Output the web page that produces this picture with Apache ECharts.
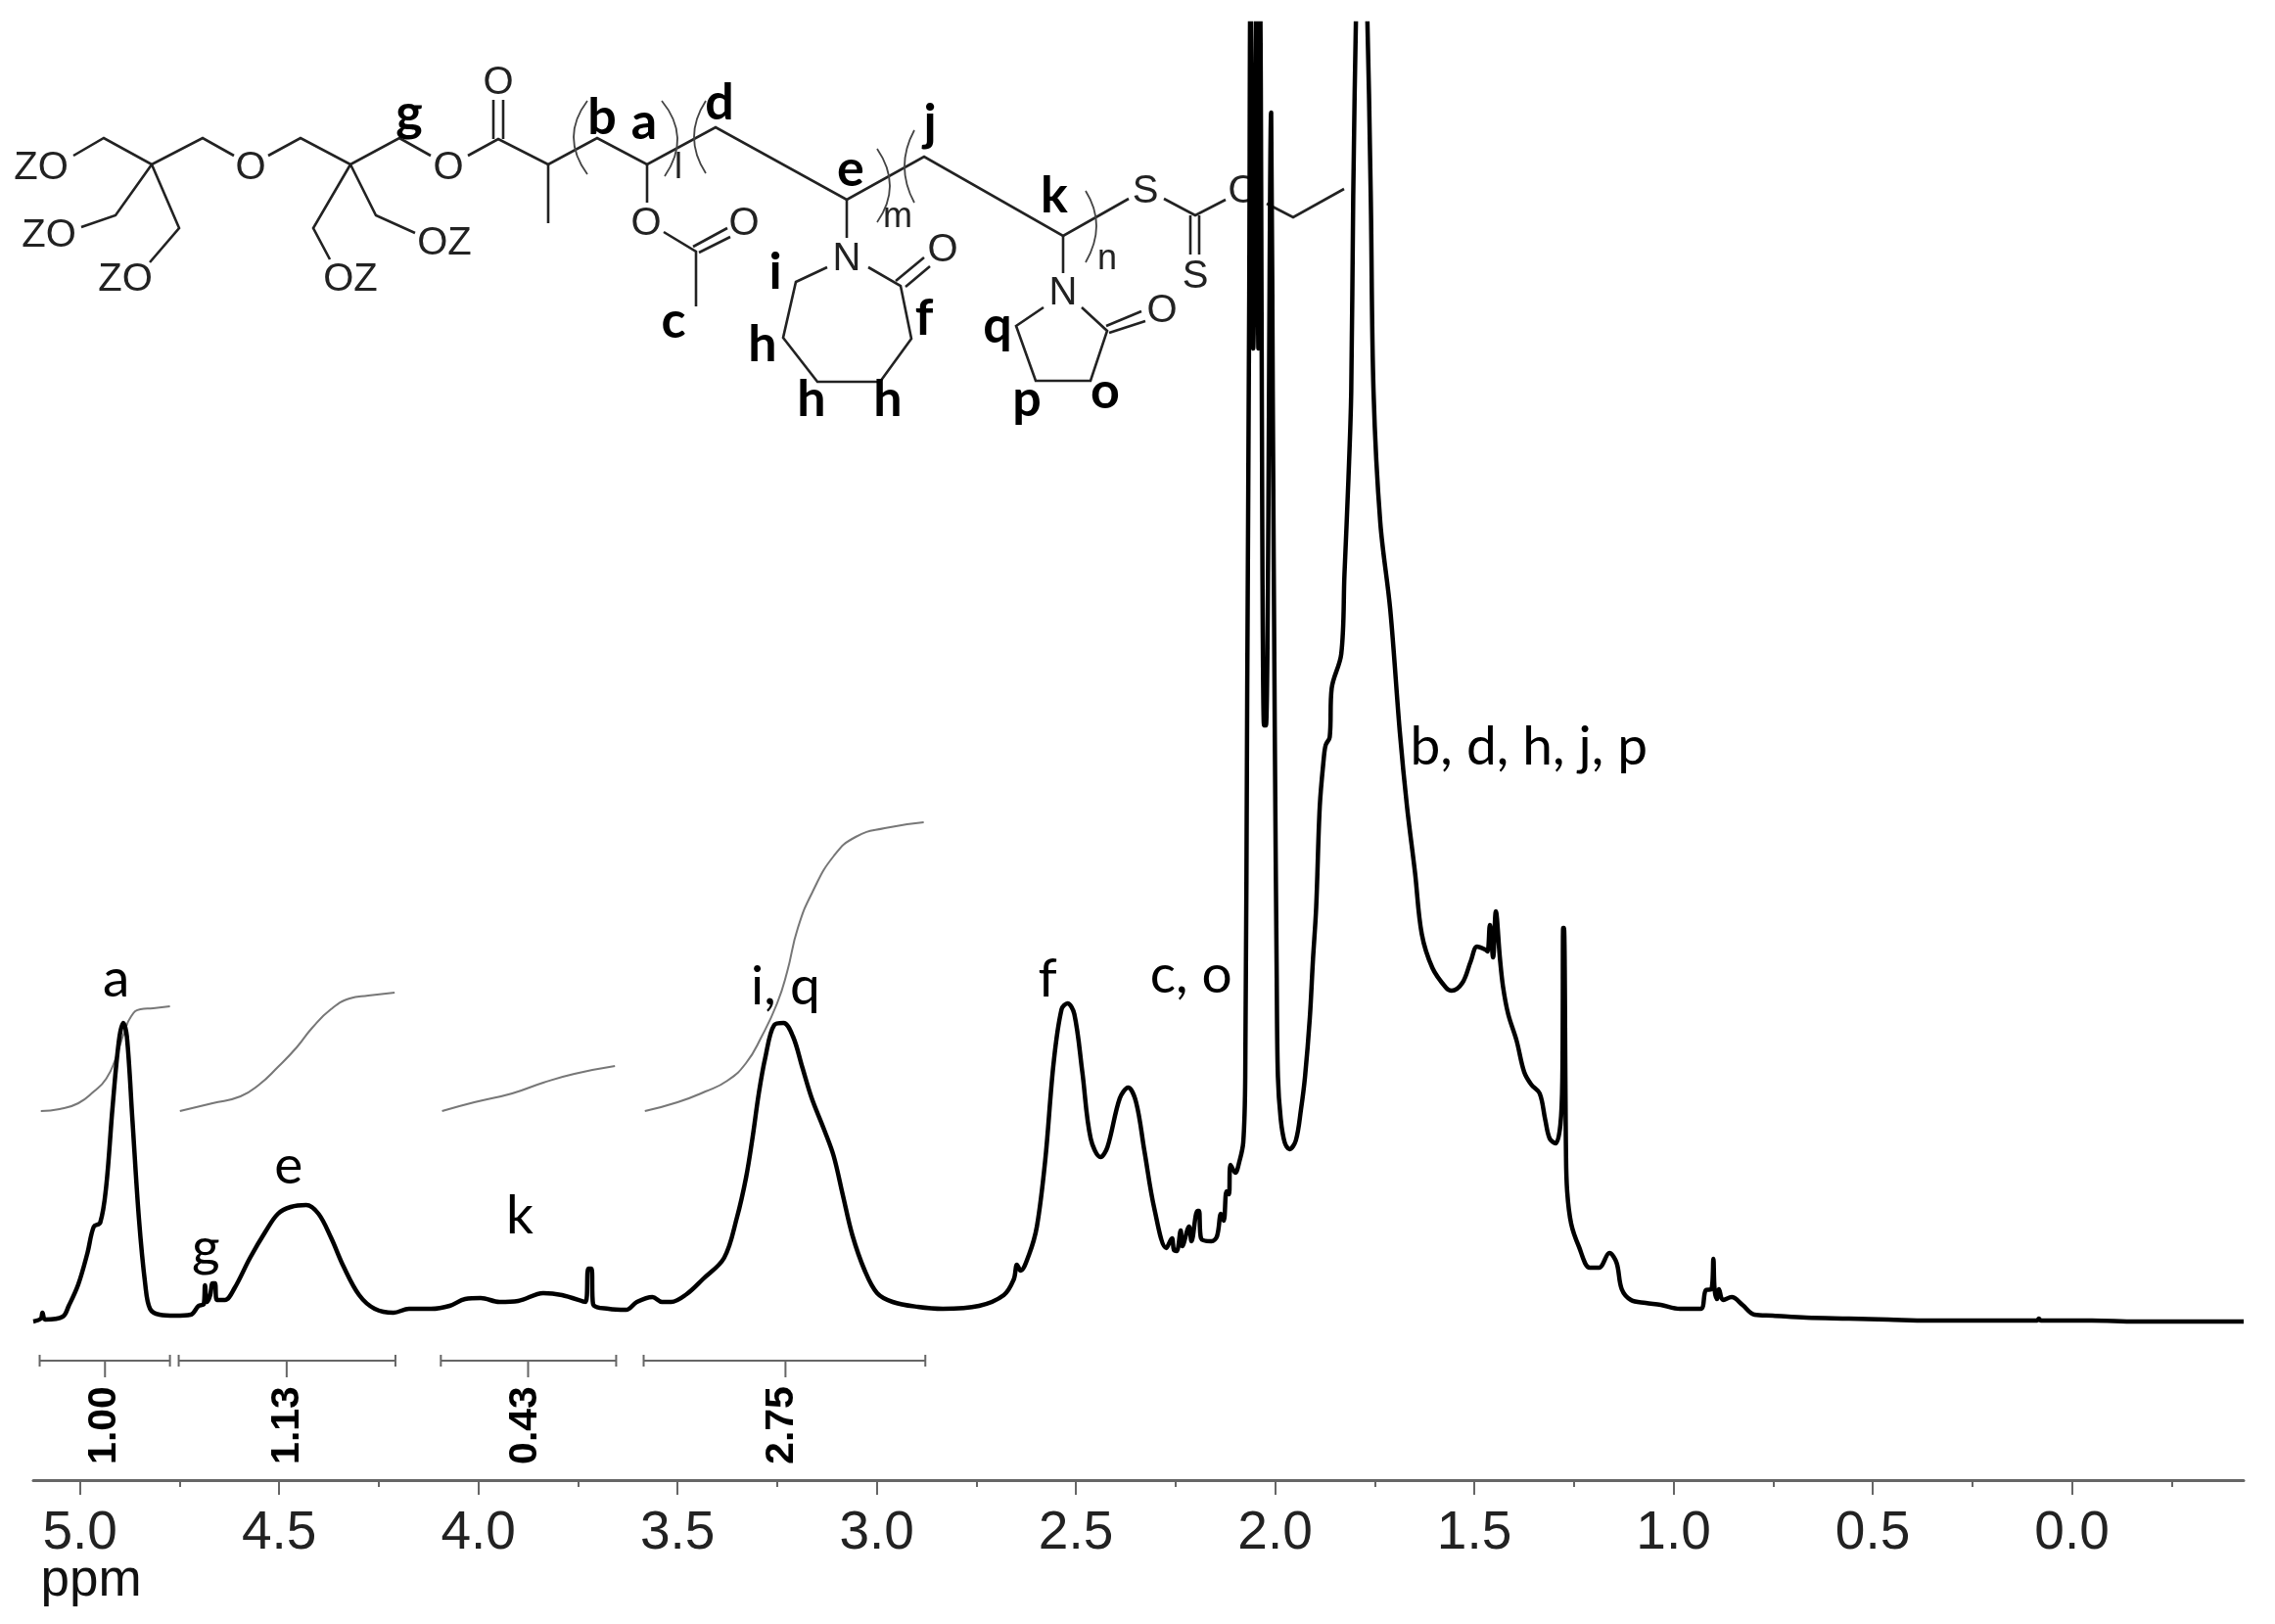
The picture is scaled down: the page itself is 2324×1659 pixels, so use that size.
<!DOCTYPE html>
<html><head><meta charset="utf-8">
<style>html,body{margin:0;padding:0;background:#fff}#c{width:2324px;height:1659px}</style>
<script src="https://cdn.jsdelivr.net/npm/echarts@6/dist/echarts.min.js"></script>
</head><body><div id="c"></div>
<script>
// 1H NMR trace: chemical shift (ppm) and intensity
const tracePpm = [
5.117,5.098,5.094,5.087,5.043,5.028,5.004,4.981,4.965,4.949,4.934,4.918,4.902,4.891,4.882,4.868,4.852,4.836,4.824,4.800,4.761,4.722,4.702,4.689,4.686,4.681,4.673,4.667,4.661,4.656,4.636,4.612,4.573,4.534,4.503,4.471,4.432,4.401,4.370,4.338,4.299,4.260,4.213,4.174,4.119,4.072,4.033,3.994,3.947,3.900,3.837,3.790,3.731,3.724,3.716,3.712,3.673,3.629,3.602,3.563,3.539,3.516,3.477,3.437,3.383,3.351,3.328,3.312,3.296,3.280,3.257,3.234,3.210,3.187,3.163,3.132,3.108,3.085,3.061,3.030,2.999,2.960,2.897,2.834,2.743,
2.681,2.656,2.648,2.639,2.618,2.598,2.577,2.556,2.536,2.521,2.504,2.484,2.463,2.438,2.421,2.390,2.369,2.349,2.328,2.303,2.273,2.259,2.254,2.247,2.237,2.233,2.216,2.210,2.195,2.191,2.186,2.160,2.146,2.136,2.129,2.122,2.116,2.112,2.100,2.090,2.080,2.075,2.070,2.065,2.062,2.055,2.047,2.042,2.038,2.028,2.023,2.010,2.006,2.001,1.996,1.993,1.986,1.976,1.964,1.948,1.935,1.925,1.913,1.905,1.897,1.888,1.878,1.873,1.863,1.858,1.834,1.826,1.816,1.809,1.804,1.796,1.785,1.770,1.760,1.753,1.736,1.711,1.687,1.669,1.649,1.632,1.605,1.571,1.557,1.530,1.509,1.493,1.473,1.467,1.461,1.453,1.446,1.436,1.428,1.415,1.394,1.375,1.357,1.336,1.322,1.311,1.296,1.284,1.279,1.277,1.275,1.270,1.267,1.257,1.238,1.210,1.187,1.161,1.143,1.130,1.107,1.070,1.032,0.984,0.932,0.919,0.905,0.900,0.897,0.891,0.886,0.876,0.854,0.827,0.797,0.751,0.667,0.560,0.461,0.360,0.254,0.170,0.088,0.083,0.078,-0.050,-0.161,-0.300,-0.431];
const traceIntensity = [
162,165,171,164,167,178,200,232,259,263,300,381,449,467,453,367,268,200,175,169,168,169,178,180,199,182,189,201,201,184,184,196,227,254,272,279,281,272,248,218,189,175,171,175,175,178,185,186,182,183,191,189,182,216,216,180,175,174,182,187,182,182,190,205,227,268,309,349,395,431,465,467,453,422,390,358,331,291,250,214,191,182,177,175,178,
189,205,220,214,230,259,327,426,481,487,476,417,349,330,340,390,401,386,336,277,237,247,235,234,255,239,259,244,275,275,247,244,249,272,265,295,292,322,314,325,345,412,812,1212,1520,1156,1520,1156,1520,771,771,1397,1112,771,512,412,369,345,338,347,379,412,472,532,585,688,737,751,759,809,844,925,1023,1112,1312,1520,1700,1520,1312,1112,978,889,764,688,621,558,523,503,500,508,530,545,542,540,567,534,581,534,504,476,449,417,404,395,368,349,344,363,412,564,564,336,295,262,239,217,217,232,222,195,184,181,179,175,175,194,195,226,195,185,195,184,187,179,169,168,166,165,164,163,163,163,163,165,163,163,162,162,162];

// integral curves
const int1Ppm = [5.098,5.051,5.004,4.965,4.934,4.910,4.890,4.871,4.848,4.816,4.774];
const int1Val = [377,379,385,397,410,431,456,474,481,482,484];
const int2Ppm = [4.749,4.667,4.597,4.550,4.503,4.456,4.417,4.370,4.323,4.276,4.210];
const int2Val = [377,385,392,404,422,442,462,481,492,495,498];
const int3Ppm = [4.091,4.010,3.915,3.837,3.759,3.657];
const int3Val = [377,386,395,406,415,423];
const int4Ppm = [3.582,3.500,3.430,3.375,3.328,3.289,3.250,3.225,3.198,3.161,3.107,3.053,2.980,2.882];
const int4Val = [377,386,397,408,426,453,487,519,564,601,638,657,666,672];

// integral ranges and values
const rangeFrom = [5.101,4.752,4.094,3.585];
const rangeTo = [4.774,4.208,3.654,2.878];
const rangeMark = [4.937,4.481,3.875,3.229];
const rangeLabelPpm = [4.939,4.479,3.881,3.239];
const rangeText = ['1.00','1.13','0.43','2.75'];

// peak assignments
const peakText = ['a','g','e','k','i, q','f','c, o','b, d, h, j, p'];
const peakPpm = [4.909,4.684,4.476,3.896,3.229,2.571,2.211,1.363];
const peakVal = [512,237,321,270,504,512,516,749];

const tickValues = [0,0.5,1,1.5,2,2.5,3,3.5,4,4.5,5];
const minorTickValues = [-0.25,0.25,0.75,1.25,1.75,2.25,2.75,3.25,3.75,4.25,4.75];

// chemical structure (annotation drawn on the page)
const molBonds = [
[[75,159],[106,141],[155,168],[207,141],[239,159]],
[[274,159],[307,141],[358,168],[408,141],[440,159]],
[[478,159],[509,142],[560,168],[610,141],[661,168],[731,130],[865,204],[944,160],[1086,241],[1153,203]],
[[560,168],[560,228]],[[504,142],[504,102]],[[514,142],[514,102]],
[[155,168],[118,220],[83,232]],[[155,168],[183,233],[153,268]],
[[358,168],[320,233],[337,265]],[[358,168],[384,220],[424,238]],
[[661,168],[661,207]],[[678,237],[711,257],[711,313]],[[708,252],[743,233]],[[714,258],[746,242]],
[[865,204],[865,243]],[[845,273],[813,288],[800,345],[835,390],[899,390],[931,346],[920,292],[887,273]],
[[915,287],[944,263]],[[925,293],[950,272]],
[[1086,241],[1086,279]],[[1066,314],[1038,333],[1058,389],[1114,389],[1131,338],[1105,314]],
[[1130,333],[1166,318]],[[1133,340],[1170,328]],
[[1189,203],[1221,220],[1252,204]],[[1216,220],[1216,260]],[[1225,220],[1225,260]],
[[1294,208],[1321,222],[1373,193]]
];
const molParens = [
[[600,103],[586,140],[600,178]],[[676,103],[692,140],[679,180]],[[721,103],[709,140],[721,177]],
[[896,152],[909,190],[896,227]],[[934,133],[924,170],[934,207]],[[1109,195],[1120,230],[1109,268]]
];
const molAtoms = [['ZO',42,172],['O',256,172],['O',458,172],['O',509,85],['ZO',50,241],['ZO',128,286],['OZ',358,286],['OZ',454,249],
['O',660,229],['O',760,229],['N',865,265],['O',963,256],['N',1086,300],['O',1187,318],['S',1170,196],['O',1270,196],['S',1221,283]];
const molSubs = [['l',693,172],['m',917,222],['n',1131,265]];
const molTags = [['g',418,116],['b',615,120],['a',658,125],['d',735,105],['e',869,173],['j',950,126],['c',688,328],['i',792,278],['f',944,325],['h',779,352],['h',829,408],['h',907,408],['k',1077,200],['q',1019,333],['p',1049,408],['o',1129,400]];

const zip = (a, b) => a.map((v, i) => [v, b[i]]);
const bracketPts = [];
rangeFrom.forEach((f, i) => {
  const t = rangeTo[i], m = rangeMark[i];
  bracketPts.push([f,116],[f,128],[f,122],[m,122],[m,105],[m,122],[t,122],[t,116],[t,128],[null,null]);
});

const graphic = [];
const ink = '#222';
molBonds.forEach(p => graphic.push({type:'polyline',shape:{points:p},style:{stroke:ink,lineWidth:2.6,fill:null}}));
molParens.forEach(p => graphic.push({type:'bezierCurve',shape:{x1:p[0][0],y1:p[0][1],cpx1:2*p[1][0]-(p[0][0]+p[2][0])/2,cpy1:p[1][1],x2:p[2][0],y2:p[2][1]},style:{stroke:'#444',lineWidth:1.8,fill:null}}));
molAtoms.forEach(a => graphic.push({type:'text',x:a[1],y:a[2],style:{text:a[0],font:'40px "Liberation Sans"',fill:ink,align:'center',verticalAlign:'middle'}}));
molSubs.forEach(a => graphic.push({type:'text',x:a[1],y:a[2],style:{text:a[0],font:'36px "Liberation Sans"',fill:ink,align:'center',verticalAlign:'middle'}}));
molTags.forEach(a => graphic.push({type:'text',x:a[1],y:a[2],style:{text:a[0],font:'bold 52px Lato',fill:'#000',align:'center',verticalAlign:'middle'}}));
graphic.push({type:'text',x:93,y:1615,style:{text:'ppm',font:'53px "Liberation Sans"',fill:'#111',align:'center',verticalAlign:'middle'}});

const intSeries = [[int1Ppm,int1Val],[int2Ppm,int2Val],[int3Ppm,int3Val],[int4Ppm,int4Val]].map(p => ({
  type:'line',data:zip(p[0],p[1]),showSymbol:false,smooth:0.5,silent:true,
  lineStyle:{color:'#777',width:2},z:3
}));

const chart = echarts.init(document.getElementById('c'),null,{renderer:'canvas'});
const xBase = {type:'value',min:-0.431,max:5.117,inverse:true,position:'bottom',splitLine:{show:false}};
chart.setOption({
  animation:false,
  backgroundColor:'#fff',
  grid:{left:34,right:32,top:24,bottom:147},
  graphic:graphic,
  xAxis:[
    Object.assign({},xBase,{
      axisLine:{show:true,lineStyle:{color:'#666',width:3}},
      axisTick:{show:true,inside:false,length:15,customValues:tickValues,lineStyle:{color:'#666',width:2}},
      axisLabel:{show:true,margin:27,fontFamily:'Liberation Sans',fontSize:55,color:'#222',customValues:tickValues,formatter:v=>v.toFixed(1)}
    }),
    Object.assign({},xBase,{
      axisLine:{show:false},
      axisTick:{show:true,length:7,customValues:minorTickValues,lineStyle:{color:'#666',width:2}},
      axisLabel:{show:false}
    })
  ],
  yAxis:{type:'value',min:0,max:1488,show:false},
  series:[
    ...intSeries,
    {type:'line',data:bracketPts,showSymbol:false,connectNulls:false,silent:true,lineStyle:{color:'#666',width:2},z:3},
    {type:'line',data:zip(tracePpm,traceIntensity),showSymbol:false,smooth:0.35,clip:true,silent:true,
      lineStyle:{color:'#000',width:4.5,join:'round'},z:5},
    {type:'scatter',data:peakText.map((t,i)=>({value:[peakPpm[i],peakVal[i]],name:t})),symbolSize:0,silent:true,z:6,
      itemStyle:{opacity:1},
      label:{show:true,position:'inside',formatter:p=>p.name,fontFamily:'Lato',fontSize:55,color:'#000'}},
    {type:'scatter',data:rangeText.map((t,i)=>({value:[rangeLabelPpm[i],56],name:t})),symbolSize:0,silent:true,z:6,
      itemStyle:{opacity:1},
      label:{show:true,position:'inside',rotate:90,formatter:p=>p.name,fontFamily:'Liberation Sans',fontWeight:'bold',fontSize:41,color:'#000'}}
  ]
});
</script></body></html>
